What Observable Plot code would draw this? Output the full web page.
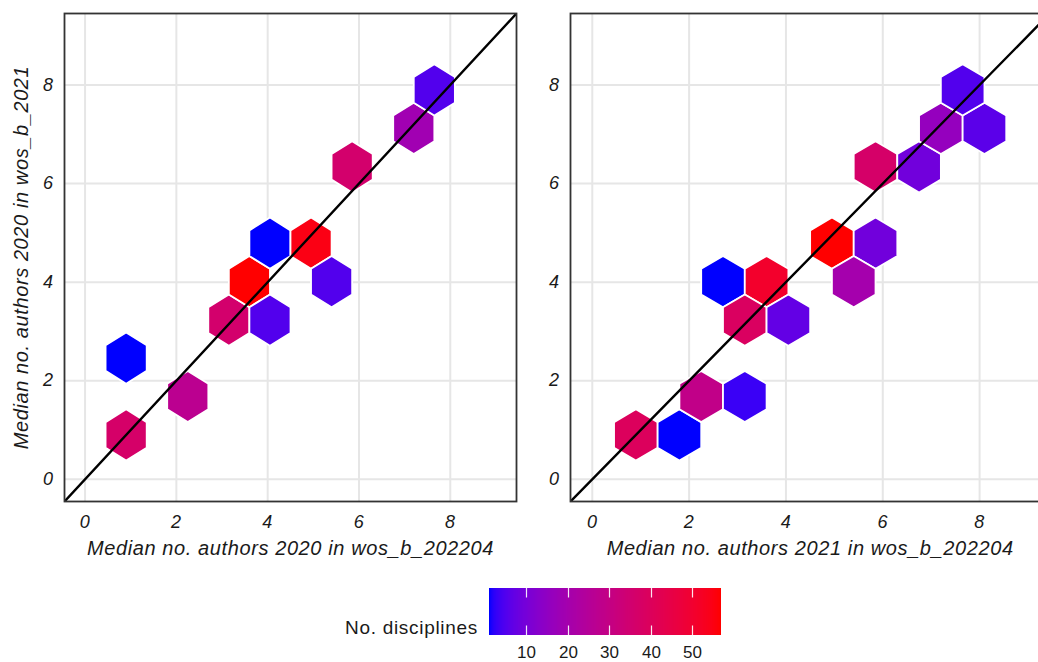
<!DOCTYPE html>
<html>
<head>
<meta charset="utf-8">
<script src="https://cdn.jsdelivr.net/npm/d3@7"></script>
<script src="https://cdn.jsdelivr.net/npm/@observablehq/plot@0.6"></script>
<style>
  html, body { margin: 0; padding: 0; background: #fff; overflow: hidden; }
  #wrap { position: relative; width: 1038px; height: 662px; overflow: hidden; font-family: "Liberation Sans", Arial, sans-serif; }
  .panel { position: absolute; top: 0; height: 560px; }
  .panel svg, #legend svg { max-width: none !important; }
  #legend { position: absolute; left: 469px; top: 586px; width: 272px; height: 76px; }
  #legend svg text { font-size: 17px !important; fill: #1a1a1a; }
  #legend .tick line { stroke: #ffffff; stroke-opacity: 0.9; stroke-width: 1.2; stroke-dasharray: 9.4 28.2 9.4 30; }
  #legendTitle { position: absolute; left: 260px; width: 218px; top: 618px; line-height: 20px; text-align: right; font-size: 19px; letter-spacing: 0.7px; color: #1a1a1a; }
</style>
</head>
<body>
<div id="wrap">
  <div id="left" class="panel" style="left:0px; width:520px"></div>
  <div id="right" class="panel" style="left:520px; width:534px"></div>
  <div id="legendTitle"></div>
  <div id="legend"></div>
</div>
<script>
// ---- data ----
const axisTicks = [0, 2, 4, 6, 8];
const axisDomain = [-0.45, 9.45];

// hexbin centres and counts, panel 1 (2020 in wos_b_202204 vs 2020 in wos_b_2021)
const hexXA = [0.9, 0.9, 2.25, 3.15, 3.6, 4.05, 4.05, 4.95, 5.4, 5.85, 7.2, 7.65];
const hexYA = [0.9, 2.46, 1.68, 3.23, 4.01, 3.23, 4.79, 4.79, 4.01, 6.34, 7.12, 7.9];
const countA = [37, 1, 27, 36, 57, 5, 1, 55, 5, 36, 19, 5];

// hexbin centres and counts, panel 2 (2021 in wos_b_202204 vs 2020 in wos_b_2021)
const hexXB = [0.9, 1.8, 2.25, 3.15, 2.7, 3.6, 3.15, 4.05, 4.95, 5.85, 5.4, 5.85, 6.75, 7.2, 8.1, 7.65];
const hexYB = [0.9, 0.9, 1.68, 1.68, 4.01, 4.01, 3.23, 3.23, 4.79, 4.79, 4.01, 6.34, 6.34, 7.12, 7.12, 7.9];
const countB = [40, 1, 29, 3, 1, 51, 39, 7, 57, 9, 20, 37, 9, 16, 6, 5];

const hexRadius = 0.52;           // hexagon circumradius in data units
const colorDomain = [1, 57];
const legendTicks = [10, 20, 30, 40, 50];
const ablineSlope = 1, ablineIntercept = 0;

const xTitleA = "Median no. authors 2020 in wos_b_202204";
const xTitleB = "Median no. authors 2021 in wos_b_202204";
const yTitle = "Median no. authors 2020 in wos_b_2021";
const legendLabel = "No. disciplines";

// ---- derived ----
function hexPolys(xs, ys, cs) {
  const out = [];
  xs.forEach((cx, i) => {
    for (let k = 0; k < 6; k++) {
      const a = Math.PI / 2 - k * Math.PI / 3;
      out.push({id: i, x: cx + hexRadius * Math.cos(a), y: ys[i] + hexRadius * Math.sin(a), n: cs[i]});
    }
  });
  return out;
}
const abline = axisDomain.map(x => ({x, y: ablineIntercept + ablineSlope * x}));

const colorScale = {type: "linear", domain: colorDomain, range: ["#0000ff", "#ff0000"], interpolate: "lab"};
const fontFamily = "'Liberation Sans', Arial, sans-serif";

function panel(xs, ys, cs, xTitle, withYTitle, opts) {
  const marks = [
    Plot.gridX(axisTicks, {stroke: "#e6e6e6", strokeOpacity: 1, strokeWidth: 2}),
    Plot.gridY(axisTicks, {stroke: "#e6e6e6", strokeOpacity: 1, strokeWidth: 2}),
    Plot.line(hexPolys(xs, ys, cs), {x: "x", y: "y", z: "id", fill: "n", stroke: "white", strokeWidth: 1.8, curve: "linear-closed"}),
    Plot.line(abline, {x: "x", y: "y", stroke: "black", strokeWidth: 2.4, clip: true}),
    Plot.frame({stroke: "#333333", strokeWidth: 1.8}),
    Plot.axisX(axisTicks, {tickSize: 0, tickPadding: 14, label: null, fontSize: 18, fill: "#1a1a1a"}),
    Plot.axisY(axisTicks, {tickSize: 0, tickPadding: 11, label: null, fontSize: 18, fill: "#1a1a1a"}),
    Plot.text([xTitle], {text: d => d, frameAnchor: "bottom", textAnchor: "middle", lineAnchor: "middle", dy: 47, fontSize: 20, fill: "#1a1a1a", fontStyle: "italic"})
  ];
  if (withYTitle) {
    marks.push(Plot.text([yTitle], {text: d => d, frameAnchor: "left", textAnchor: "middle", lineAnchor: "middle", dx: -43, rotate: -90, fontSize: 20, fill: "#1a1a1a", fontStyle: "italic"}));
  }
  return Plot.plot({
    ...opts,
    height: 560,
    marginTop: 13,
    marginBottom: 59,
    x: {domain: axisDomain},
    y: {domain: axisDomain},
    color: colorScale,
    style: {fontFamily, fontStyle: "italic", background: "transparent", overflow: "visible", letterSpacing: "0.6px"},
    marks
  });
}

document.getElementById("left").append(
  panel(hexXA, hexYA, countA, xTitleA, true, {width: 520, marginLeft: 64, marginRight: 4})
);
document.getElementById("right").append(
  panel(hexXB, hexYB, countB, xTitleB, false, {width: 534, marginLeft: 50, marginRight: 4.7})
);

document.getElementById("legendTitle").textContent = legendLabel;
document.getElementById("legend").append(
  Plot.legend({
    color: colorScale,
    label: null,
    width: 272,
    height: 76,
    marginLeft: 20,
    marginRight: 20,
    marginTop: 2,
    marginBottom: 27,
    ticks: legendTicks,
    tickSize: 8,
    tickFormat: d => String(d),
    style: {fontFamily, fontSize: "17px", color: "#1a1a1a", background: "transparent"}
  })
);
</script>
</body>
</html>
